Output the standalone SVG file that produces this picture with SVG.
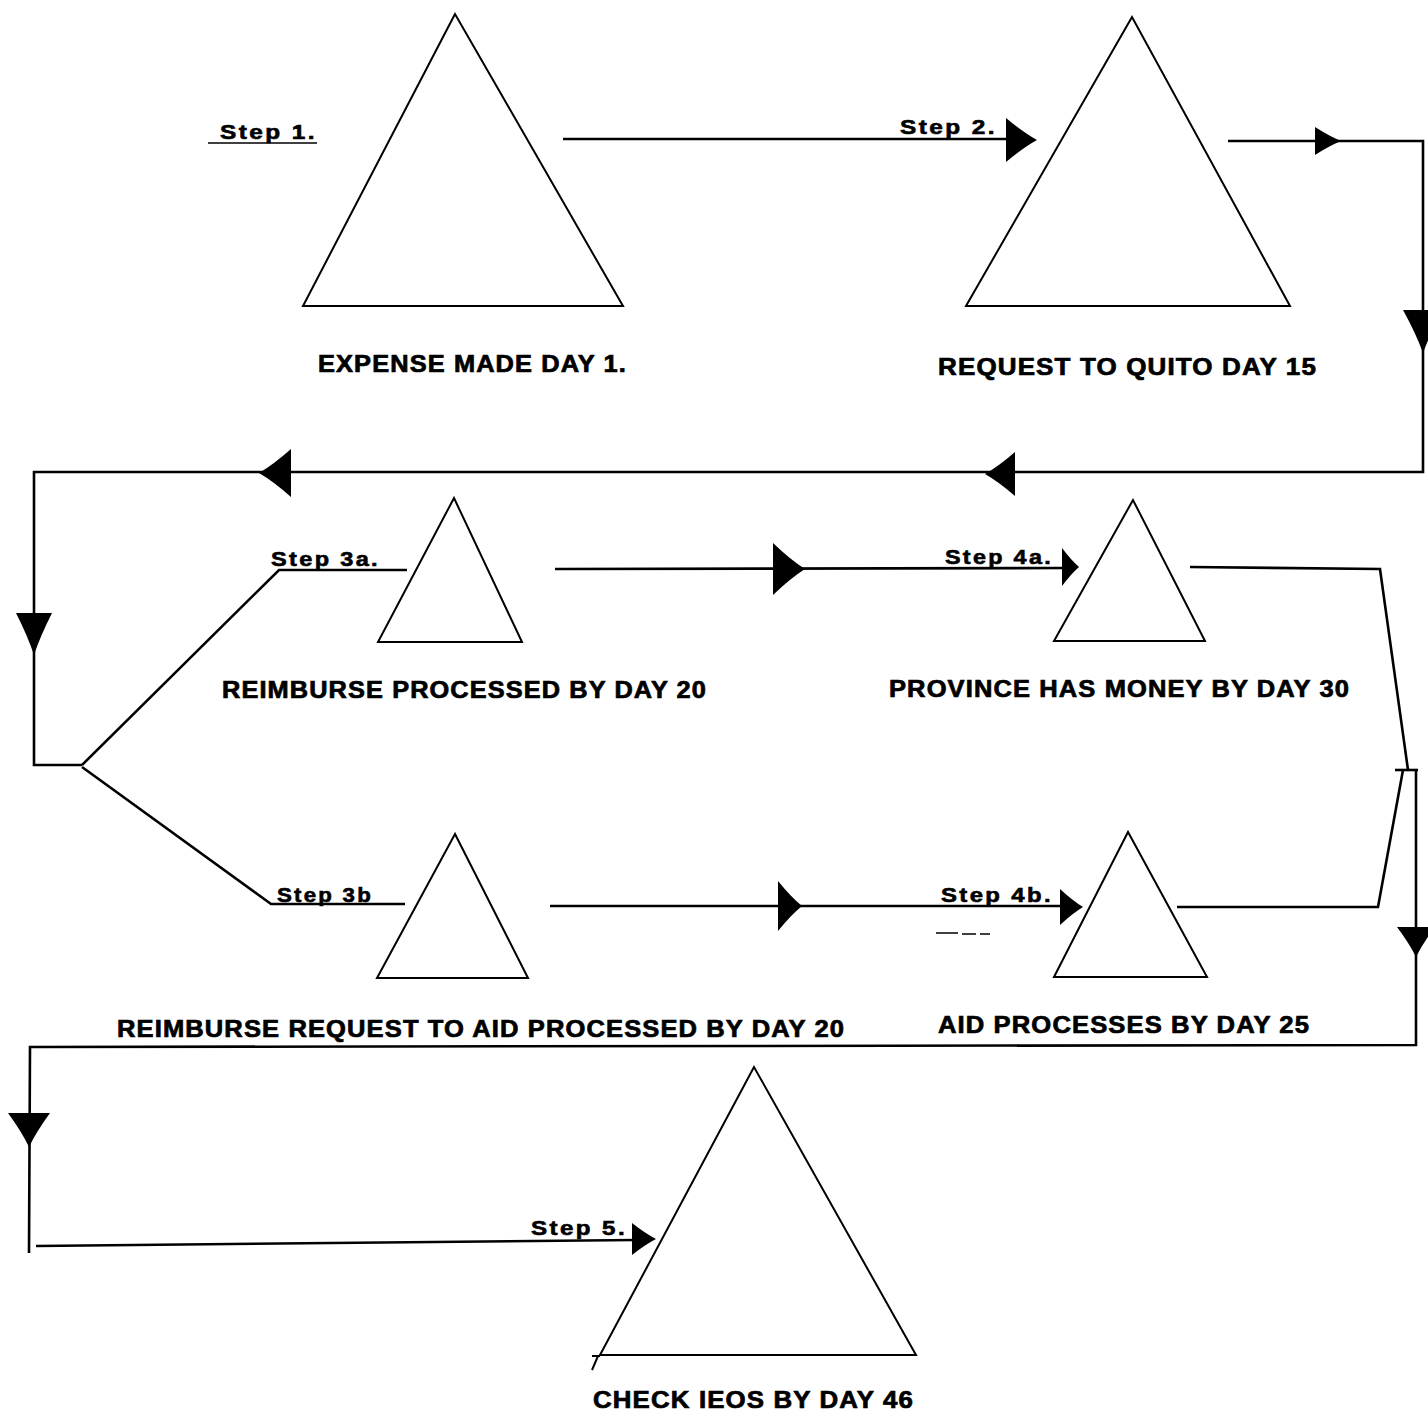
<svg xmlns="http://www.w3.org/2000/svg" xmlns:xlink="http://www.w3.org/1999/xlink" width="1428" height="1412" viewBox="0 0 1428 1412">
  <style>
    .tri { fill: none; stroke: #000; stroke-width: 2; stroke-linejoin: miter; }
    .con { fill: none; stroke: #000; stroke-width: 2.6; stroke-linejoin: miter; }
    .thin { fill: none; stroke: #000; stroke-width: 1.6; }
    .lbl { font-family: "Liberation Sans", Arial, sans-serif; font-weight: bold; font-size: 23px; letter-spacing: 1px; fill: #000; stroke: #000; stroke-width: 0.7; }
    .step { font-family: "Liberation Sans", Arial, sans-serif; font-weight: bold; font-size: 20px; letter-spacing: 2px; fill: #000; stroke: #000; stroke-width: 0.6; }
    .ah { fill: #000; }
  </style>
  <defs>
    <path id="ah" class="ah" d="M0,0 Q-0.45,-0.35 -1,-1 L-1,1 Q-0.45,0.35 0,0 Z"/>
  </defs>
  <rect width="1428" height="1412" fill="#fff"/>

  <g id="connectors">
    <path class="thin" d="M208,143 L317,143"/>
    <path class="con" d="M563,139 L1010,139"/>
    <path class="con" d="M1228,141 L1423,141 L1423,472 L34,472 L34,765 L82,765"/>
    <path class="con" d="M82,765 L279,570 L407,570"/>
    <path class="con" d="M82,767 L271,904 L405,904"/>
    <path class="con" d="M555,569 L1066,568"/>
    <path class="con" d="M550,906 L1063,906"/>
    <path class="con" d="M1190,567 L1380,569 L1408,770"/>
    <path class="con" d="M1177,907 L1378,907 L1403,770"/>
    <path class="con" d="M1395,770 L1418,770"/>
    <path class="con" d="M1416,770 L1416,1045 L30,1047 L29,1253"/>
    <path class="con" d="M36,1246 L636,1240"/>
    <path class="thin" d="M936,933 L958,933 M962,934 L976,934 M980,934 L990,934"/>
    <use xlink:href="#ah" transform="translate(1037,140) scale(31,22)"/>
    <use xlink:href="#ah" transform="translate(1341,141) scale(26,14)"/>
    <use xlink:href="#ah" transform="translate(1423,353) rotate(90) scale(43,20)"/>
    <use xlink:href="#ah" transform="translate(985,474) rotate(180) scale(30,22)"/>
    <use xlink:href="#ah" transform="translate(259,473) rotate(180) scale(32,24)"/>
    <use xlink:href="#ah" transform="translate(34,655) rotate(90) scale(42,18)"/>
    <use xlink:href="#ah" transform="translate(805,569) scale(32,26)"/>
    <use xlink:href="#ah" transform="translate(1079,567) scale(17,19)"/>
    <use xlink:href="#ah" transform="translate(802,906) scale(24,25)"/>
    <use xlink:href="#ah" transform="translate(1083,907) scale(23,18)"/>
    <use xlink:href="#ah" transform="translate(1416,957) rotate(90) scale(30,19)"/>
    <use xlink:href="#ah" transform="translate(29,1147) rotate(90) scale(34,21)"/>
    <use xlink:href="#ah" transform="translate(656,1239) scale(24,16)"/>
  </g>

  <g id="step1">
    <polygon class="tri" points="455,14 303,306 623,306"/>
    <text class="step" x="220" y="139" textLength="97" lengthAdjust="spacingAndGlyphs">Step 1.</text>
    <text class="lbl" x="318" y="372" textLength="309" lengthAdjust="spacingAndGlyphs">EXPENSE MADE DAY 1.</text>
  </g>

  <g id="step2">
    <polygon class="tri" points="1132,17 966,306 1290,306"/>
    <text class="step" x="900" y="134" textLength="97" lengthAdjust="spacingAndGlyphs">Step 2.</text>
    <text class="lbl" x="938" y="375" textLength="379" lengthAdjust="spacingAndGlyphs">REQUEST TO QUITO DAY 15</text>
  </g>

  <g id="step3a">
    <polygon class="tri" points="454,498 378,642 522,642"/>
    <text class="step" x="271" y="566" textLength="109" lengthAdjust="spacingAndGlyphs">Step 3a.</text>
    <text class="lbl" x="222" y="698" textLength="485" lengthAdjust="spacingAndGlyphs">REIMBURSE PROCESSED BY DAY 20</text>
  </g>

  <g id="step4a">
    <polygon class="tri" points="1133,500 1054,641 1205,641"/>
    <text class="step" x="945" y="564" textLength="108" lengthAdjust="spacingAndGlyphs">Step 4a.</text>
    <text class="lbl" x="889" y="697" textLength="461" lengthAdjust="spacingAndGlyphs">PROVINCE HAS MONEY BY DAY 30</text>
  </g>

  <g id="step3b">
    <polygon class="tri" points="455,834 377,978 528,978"/>
    <text class="step" x="277" y="902" textLength="96" lengthAdjust="spacingAndGlyphs">Step 3b</text>
    <text class="lbl" x="117" y="1037" textLength="728" lengthAdjust="spacingAndGlyphs">REIMBURSE REQUEST TO AID PROCESSED BY DAY 20</text>
  </g>

  <g id="step4b">
    <polygon class="tri" points="1128,832 1054,977 1207,977"/>
    <text class="step" x="941" y="902" textLength="112" lengthAdjust="spacingAndGlyphs">Step 4b.</text>
    <text class="lbl" x="938" y="1033" textLength="372" lengthAdjust="spacingAndGlyphs">AID PROCESSES BY DAY 25</text>
  </g>

  <g id="step5">
    <polygon class="tri" points="754,1067 600,1355 916,1355"/>
    <path class="tri" d="M592,1356 L600,1356 M598,1356 L592,1370"/>
    <text class="step" x="531" y="1235" textLength="96" lengthAdjust="spacingAndGlyphs">Step 5.</text>
    <text class="lbl" x="593" y="1408" textLength="321" lengthAdjust="spacingAndGlyphs">CHECK IEOS BY DAY 46</text>
  </g>
</svg>
